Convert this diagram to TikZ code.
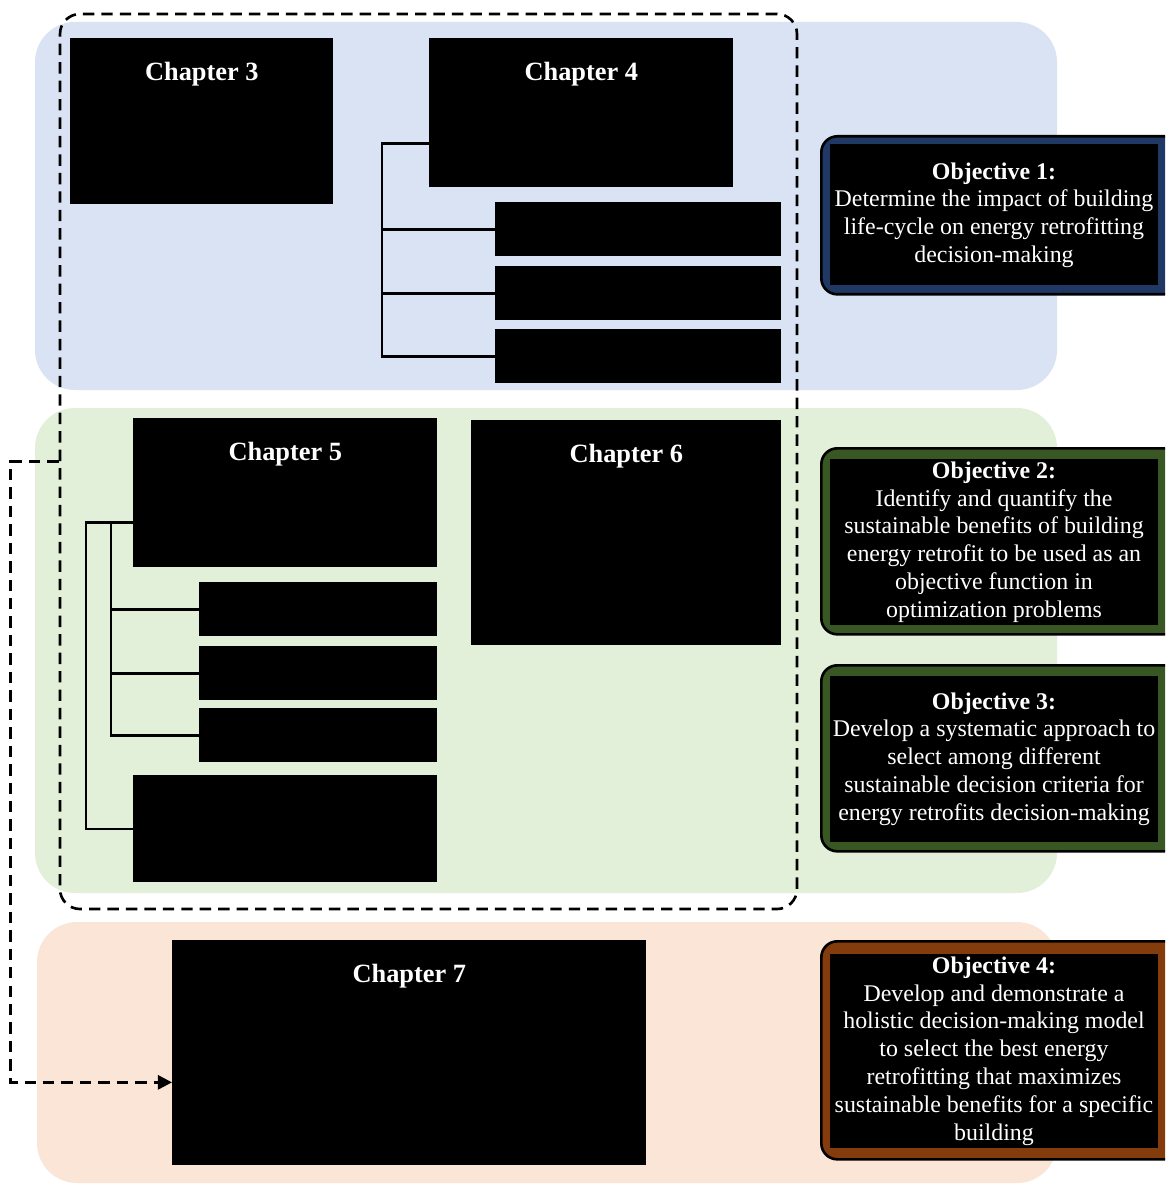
\documentclass[tikz,border=0pt]{standalone}
\usepackage{fontspec}
\setmainfont{Liberation Serif}
\usetikzlibrary{arrows.meta,positioning,calc}
\definecolor{bg blue}{HTML}{DAE3F3}
\definecolor{bg green}{HTML}{E2F0D9}
\definecolor{bg orange}{HTML}{FBE5D6}
\definecolor{obj navy}{HTML}{203864}
\definecolor{obj green}{HTML}{385723}
\definecolor{obj brown}{HTML}{843C0C}
\tikzset{
    band/.style={fill=#1,rounded corners=0.8cm},
    chapbox/.style={fill=black,anchor=north west,inner sep=0pt},
    chaptitle/.style={text=white,font=\fontsize{15}{18}\selectfont\bfseries},
    bracket/.style={draw=black,line width=1.4pt},
    dashframe/.style={draw=black,line width=1.5pt,dash pattern=on 6.5pt off 4pt,rounded corners=0.4cm,inner sep=0pt},
    objframe/.style={draw=black,line width=1.5pt,rounded corners=0.32cm,fill=#1,anchor=north west,inner sep=0pt},
    objbox/.style={fill=black,text=white,align=center,inner sep=0pt,font=\fontsize{13.6}{15.8}\selectfont},
    darr/.style={->,>={Triangle[length=8pt,width=8pt]},line width=1.5pt,dash pattern=on 6.5pt off 4pt},
}

\begin{document}
\begin{tikzpicture}
    \useasboundingbox (0,0) rectangle (23.3,-23.68);
    \clip (0,0) rectangle (23.3,-23.68);

    \fill[band=bg blue] (0.70,-0.44) rectangle (21.14,-7.80);
    \fill[band=bg green] (0.70,-8.16) rectangle (21.14,-17.86);
    \fill[band=bg orange] (0.74,-18.44) rectangle (21.14,-23.66);

    % chapters 3 and 4
    \node (ch3) [chapbox,minimum width=5.26cm,minimum height=3.32cm] at (1.40,-0.76) {};
    \node (ch3t) [chaptitle] at ([yshift=-0.72cm]ch3.north) {Chapter 3};
    \node (ch4) [chapbox,minimum width=6.08cm,minimum height=2.98cm] at (8.58,-0.76) {};
    \node (ch4t) [chaptitle] at ([yshift=-0.72cm]ch4.north) {Chapter 4};
    \node (sub4a) [chapbox,minimum width=5.72cm,minimum height=1.08cm] at (9.90,-4.04) {};
    \node (sub4b) [chapbox,minimum width=5.72cm,minimum height=1.08cm] at (9.90,-5.32) {};
    \node (sub4c) [chapbox,minimum width=5.72cm,minimum height=1.08cm] at (9.90,-6.58) {};
    \coordinate (b4) at ([xshift=-0.94cm,yshift=-0.61cm]ch4.west);
    \draw[bracket] ([yshift=-0.61cm]ch4.west) -- (b4) |- (sub4c.west);
    \draw[bracket] (b4 |- sub4a.west) -- (sub4a.west);
    \draw[bracket] (b4 |- sub4b.west) -- (sub4b.west);

    % chapters 5 and 6
    \node (ch5) [chapbox,minimum width=6.08cm,minimum height=2.98cm] at (2.66,-8.36) {};
    \node (ch5t) [chaptitle] at ([yshift=-0.72cm]ch5.north) {Chapter 5};
    \node (ch6) [chapbox,minimum width=6.20cm,minimum height=4.50cm] at (9.42,-8.40) {};
    \node (ch6t) [chaptitle] at ([yshift=-0.72cm]ch6.north) {Chapter 6};
    \node (sub5a) [chapbox,minimum width=4.76cm,minimum height=1.08cm] at (3.98,-11.64) {};
    \node (sub5b) [chapbox,minimum width=4.76cm,minimum height=1.08cm] at (3.98,-12.92) {};
    \node (sub5c) [chapbox,minimum width=4.76cm,minimum height=1.08cm] at (3.98,-14.16) {};
    \node (sub5d) [chapbox,minimum width=6.08cm,minimum height=2.14cm] at (2.66,-15.50) {};
    \coordinate (b5in) at ([xshift=-0.44cm,yshift=-0.59cm]ch5.west);
    \coordinate (b5out) at ([xshift=-0.94cm,yshift=-0.59cm]ch5.west);
    \draw[bracket] ([yshift=-0.59cm]ch5.west) -- (b5out) |- (sub5d.west);
    \draw[bracket] (b5in) |- (sub5c.west);
    \draw[bracket] (b5in |- sub5a.west) -- (sub5a.west);
    \draw[bracket] (b5in |- sub5b.west) -- (sub5b.west);

    % chapter 7
    \node (ch7) [chapbox,minimum width=9.48cm,minimum height=4.50cm] at (3.44,-18.80) {};
    \node (ch7t) [chaptitle] at ([yshift=-0.72cm]ch7.north) {Chapter 7};

    \node (frame) [dashframe,minimum width=14.74cm,minimum height=17.90cm] at (8.57,-9.23) {};
    \draw[darr] (frame.west) -- ++(-0.96,0) |- ([yshift=-0.59cm]ch7.west);

    % objectives
    \node (obj1f) [objframe=obj navy,minimum width=7.2cm,minimum height=3.16cm] at (16.40,-2.70) {};
    \node (obj1) [objbox,minimum width=6.56cm,minimum height=2.82cm] at (19.88,-4.30)
        {\textbf{Objective 1:}\\Determine the impact of building\\life-cycle on energy retrofitting\\decision-making};
    \node (obj2f) [objframe=obj green,minimum width=7.2cm,minimum height=3.72cm] at (16.40,-8.94) {};
    \node (obj2) [objbox,minimum width=6.56cm,minimum height=3.32cm] at (19.88,-10.84)
        {\textbf{Objective 2:}\\Identify and quantify the\\sustainable benefits of building\\energy retrofit to be used as an\\objective function in\\optimization problems};
    \node (obj3f) [objframe=obj green,minimum width=7.2cm,minimum height=3.72cm] at (16.40,-13.28) {};
    \node (obj3) [objbox,minimum width=6.56cm,minimum height=3.32cm] at (19.88,-15.18)
        {\textbf{Objective 3:}\\Develop a systematic approach to\\select among different\\sustainable decision criteria for\\energy retrofits decision-making};
    \node (obj4f) [objframe=obj brown,minimum width=7.2cm,minimum height=4.36cm] at (16.40,-18.80) {};
    \node (obj4) [objbox,minimum width=6.56cm,minimum height=3.88cm] at (19.88,-21.02)
        {\textbf{Objective 4:}\\Develop and demonstrate a\\holistic decision-making model\\to select the best energy\\retrofitting that maximizes\\sustainable benefits for a specific\\building};
\end{tikzpicture}
\end{document}
